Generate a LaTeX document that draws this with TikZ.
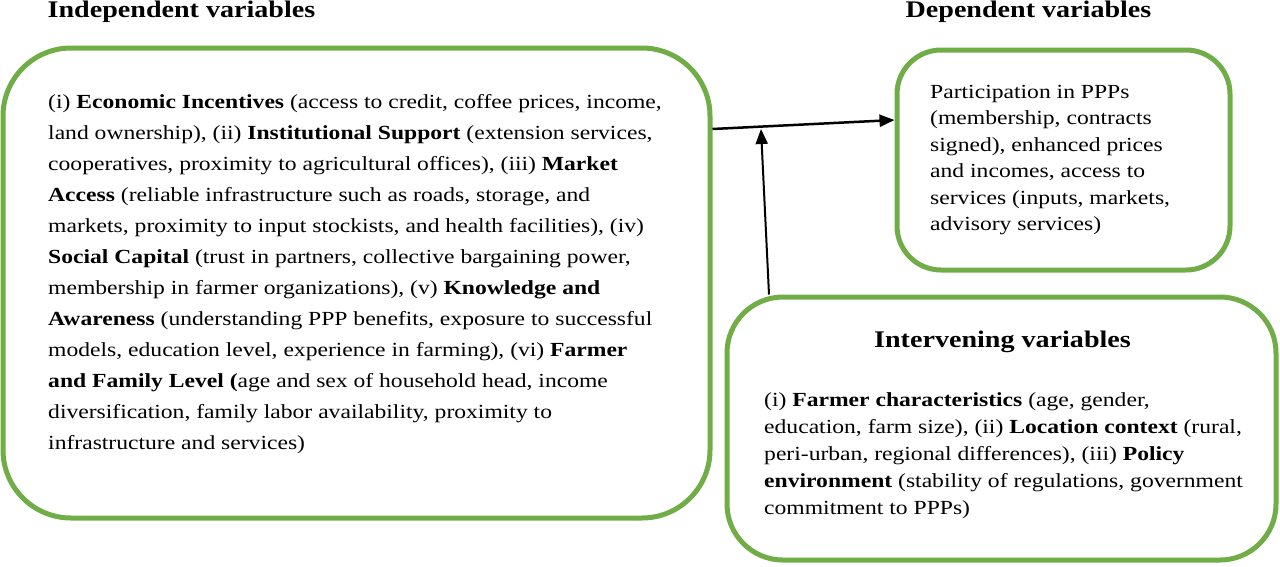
\documentclass[tikz,border=0pt]{standalone}
\usepackage{fontspec}
\setmainfont{Liberation Serif}[FakeStretch=1.18]
\usetikzlibrary{arrows.meta}
\definecolor{boxgreen}{HTML}{70AD47}
\begin{document}
\begin{tikzpicture}[x=1pt,y=-1pt,
  box/.style={draw=boxgreen, line width=5pt, rounded corners=#1, inner sep=0pt},
  body/.style={font=\fontsize{20}{#1}\selectfont, align=left, inner sep=0pt, anchor=north west},
  heading/.style={font=\fontsize{23.8}{30}\selectfont\bfseries, inner sep=0pt},
  conn/.style={line width=#1, -{Triangle[length=15pt,width=12pt]}}]
\useasboundingbox (0,0) rectangle (1280,566);
\fill[white] (0,0) rectangle (1280,566);

\node[box=68pt, minimum width=707pt, minimum height=470pt] (indep) at (356.5,283) {};
\node[box=44pt, minimum width=333pt, minimum height=220pt] (dep) at (1063.5,160) {};
\node[box=56pt, minimum width=549pt, minimum height=263pt] (interv) at (1001.5,428.5) {};

\node[heading] (indeptitle) at (181.5,12) {Independent variables};
\node[heading] (deptitle) at (1028.5,12) {Dependent variables};
\node[heading] (intervtitle) at (1002.5,342) {Intervening variables};

\node[body=31pt] (indeptext) at (48,94) {(i) \textbf{Economic Incentives} (access to credit, coffee prices, income,\\
land ownership), (ii) \textbf{Institutional Support} (extension services,\\
cooperatives, proximity to agricultural offices), (iii) \textbf{Market}\\
\textbf{Access} (reliable infrastructure such as roads, storage, and\\
markets, proximity to input stockists, and health facilities), (iv)\\
\textbf{Social Capital} (trust in partners, collective bargaining power,\\
membership in farmer organizations), (v) \textbf{Knowledge and}\\
\textbf{Awareness} (understanding PPP benefits, exposure to successful\\
models, education level, experience in farming), (vi) \textbf{Farmer}\\
\textbf{and Family Level (}age and sex of household head, income\\
diversification, family labor availability, proximity to\\
infrastructure and services)};

\node[body=26.5pt] (deptext) at (930,85) {Participation in PPPs\\
(membership, contracts\\
signed), enhanced prices\\
and incomes, access to\\
services (inputs, markets,\\
advisory services)};

\node[body=27pt] (intervtext) at (764,392) {(i) \textbf{Farmer characteristics} (age, gender,\\
education, farm size), (ii) \textbf{Location context} (rural,\\
peri-urban, regional differences), (iii) \textbf{Policy}\\
\textbf{environment} (stability of regulations, government\\
commitment to PPPs)};

\coordinate (j) at (761,129);
\draw[conn=2.5pt] ([yshift=154pt]indep.east) -- ([yshift=40pt]dep.west);
\draw[conn=2pt] ([xshift=-232.5pt]interv.north) -- (j);
\end{tikzpicture}
\end{document}
